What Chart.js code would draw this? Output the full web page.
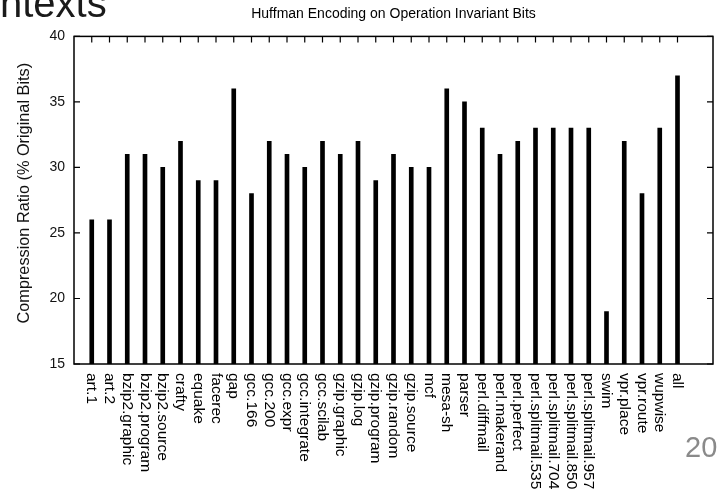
<!DOCTYPE html>
<html>
<head>
<meta charset="utf-8">
<script src="https://cdn.jsdelivr.net/npm/chart.js@4/dist/chart.umd.min.js"></script>
<style>
  html, body { margin: 0; padding: 0; background: #fff; }
  #wrap { position: relative; width: 721px; height: 491px; overflow: hidden; }
  #chart { position: absolute; left: 0; top: 0; }
  .slide-title { position: absolute; left: 0; top: -17px; font: 40px/40px "Liberation Sans", Arial, sans-serif; color: #1a1a1a; white-space: nowrap; }
  .page-num { position: absolute; left: 685px; top: 433px; font: 29px/29px "Liberation Sans", Arial, sans-serif; color: #8a8a8a; }
</style>
</head>
<body>
<div id="wrap">
  <canvas id="chart" width="721" height="491"></canvas>
  <div class="slide-title">ntexts</div>
  <div class="page-num">20</div>
</div>
<script>
// Benchmarks along the x axis
const benchmarks = [
  'art.1', 'art.2', 'bzip2.graphic', 'bzip2.program', 'bzip2.source', 'crafty',
  'equake', 'facerec', 'gap', 'gcc.166', 'gcc.200', 'gcc.expr', 'gcc.integrate',
  'gcc.scilab', 'gzip.graphic', 'gzip.log', 'gzip.program', 'gzip.random',
  'gzip.source', 'mcf', 'mesa-sh', 'parser', 'perl.diffmail', 'perl.makerand',
  'perl.perfect', 'perl.splitmail.535', 'perl.splitmail.704', 'perl.splitmail.850',
  'perl.splitmail.957', 'swim', 'vpr.place', 'vpr.route', 'wupwise', 'all'
];

// Compression ratio (% of original bits) per benchmark
const compressionRatio = [
  26, 26, 31, 31, 30, 32,
  29, 29, 36, 28, 32, 31, 30,
  32, 31, 32, 29, 31,
  30, 30, 36, 35, 33, 31,
  32, 33, 33, 33,
  33, 19, 32, 28, 33, 37
];

// Y axis tick values
const yTicks = [15, 20, 25, 30, 35, 40];
const chartTitle = 'Huffman Encoding on Operation Invariant Bits';
const yTitle = 'Compression Ratio (% Original Bits)';

// One empty slot before the first benchmark, two after the last
const padBefore = 1;
const padAfter = 2;
const axisLabels = [...Array(padBefore).fill(''), ...benchmarks, ...Array(padAfter).fill('')];
const axisValues = [...Array(padBefore).fill(null), ...compressionRatio, ...Array(padAfter).fill(null)];

const FONT = '"Liberation Sans", Arial, sans-serif';

// Closed frame, inward tick marks on all four sides, vertical benchmark names, titles
const frameAndLabels = {
  id: 'frameAndLabels',
  afterDatasetsDraw(chart) {
    const { ctx, chartArea: a, scales } = chart;
    const xs = scales.x, ys = scales.y;
    const tick = 6;
    ctx.save();
    ctx.strokeStyle = '#000';
    ctx.lineWidth = 1.5;
    ctx.strokeRect(a.left, a.top, a.right - a.left, a.bottom - a.top);

    ctx.lineWidth = 1.2;
    ctx.beginPath();
    yTicks.forEach(v => {
      const y = ys.getPixelForValue(v);
      ctx.moveTo(a.left, y); ctx.lineTo(a.left + tick, y);
      ctx.moveTo(a.right, y); ctx.lineTo(a.right - tick, y);
    });
    benchmarks.forEach((_, i) => {
      const x = xs.getPixelForValue(i + padBefore);
      ctx.moveTo(x, a.top); ctx.lineTo(x, a.top + tick);
      ctx.moveTo(x, a.bottom); ctx.lineTo(x, a.bottom - tick);
    });
    ctx.stroke();

    ctx.fillStyle = '#000';
    ctx.font = '15.5px ' + FONT;
    ctx.textAlign = 'left';
    ctx.textBaseline = 'middle';
    benchmarks.forEach((name, i) => {
      const x = xs.getPixelForValue(i + padBefore);
      ctx.save();
      ctx.translate(x, a.bottom + 9);
      ctx.rotate(Math.PI / 2);
      ctx.fillText(name, 0, 0);
      ctx.restore();
    });

    // chart title, centred over the plot frame
    ctx.font = '14px ' + FONT;
    ctx.textAlign = 'center';
    ctx.textBaseline = 'alphabetic';
    ctx.fillText(chartTitle, (a.left + a.right) / 2, 18.3);

    // y axis title, set a little above the plot's vertical centre
    ctx.fillStyle = '#111';
    ctx.font = '16.3px ' + FONT;
    ctx.textBaseline = 'middle';
    ctx.save();
    ctx.translate(25, (a.top + a.bottom) / 2 - 7);
    ctx.rotate(-Math.PI / 2);
    ctx.fillText(yTitle, 0, 0);
    ctx.restore();
    ctx.restore();
  }
};

new Chart(document.getElementById('chart'), {
  type: 'bar',
  data: {
    labels: axisLabels,
    datasets: [{
      data: axisValues,
      backgroundColor: '#000',
      borderWidth: 0,
      barThickness: 4
    }]
  },
  options: {
    responsive: false,
    animation: false,
    layout: { padding: { left: 0, right: 8, top: 36.4, bottom: 0 } },
    plugins: {
      legend: { display: false },
      tooltip: { enabled: false },
      title: { display: false }
    },
    scales: {
      x: {
        type: 'category',
        offset: false,
        grid: { display: false },
        border: { display: false },
        ticks: { display: false },
        afterFit(scale) { scale.height = 127; }
      },
      y: {
        min: 15,
        max: 40,
        grid: { display: false, drawTicks: false },
        border: { display: false },
        ticks: {
          stepSize: 5,
          padding: 9,
          color: '#111',
          font: { family: FONT, size: 14 }
        },
        afterFit(scale) { scale.width = 74; }
      }
    }
  },
  plugins: [frameAndLabels]
});
</script>
</body>
</html>
